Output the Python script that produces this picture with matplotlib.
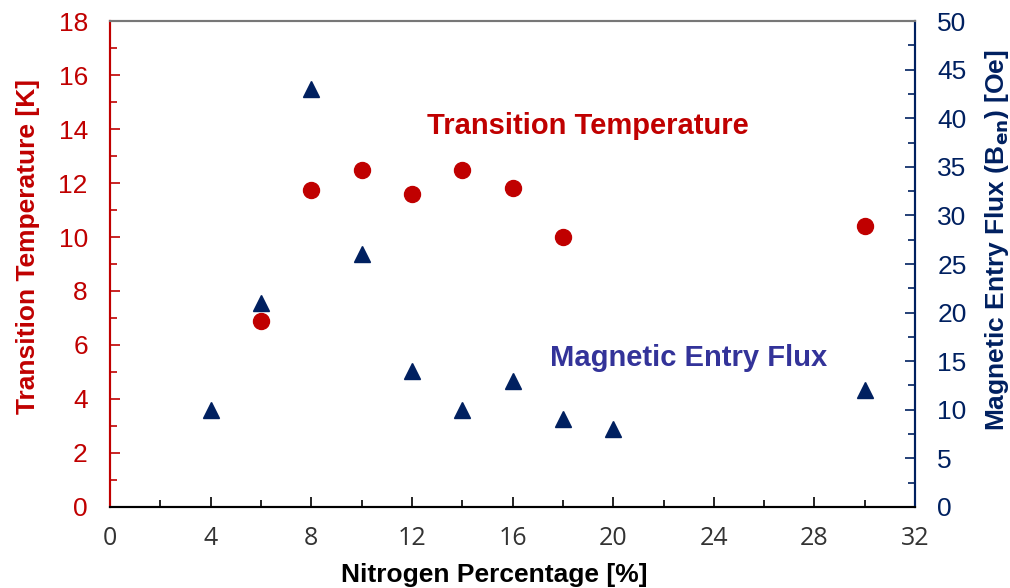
import numpy as np
import matplotlib.pyplot as plt
from matplotlib.ticker import MultipleLocator

plt.rcParams['font.family'] = ['Liberation Sans', 'DejaVu Sans']

# transition temperature (left axis)
tc_n = [6, 8, 10, 12, 14, 16, 18, 30]
tc_k = [6.9, 11.75, 12.5, 11.6, 12.5, 11.8, 10.0, 10.4]

# magnetic entry flux (right axis)
flux_n = [4, 6, 8, 10, 12, 14, 16, 18, 20, 30]
flux_oe = [10, 21, 43, 26, 14, 10, 13, 9, 8, 12]

red = '#C00000'
navy = '#002060'

fig = plt.figure(figsize=(10.1, 5.88), dpi=100)
ax = fig.add_axes([0.109, 0.138, 0.797, 0.826])
ax2 = ax.twinx()

ax.plot(tc_n, tc_k, 'o', color=red, markersize=11.5, zorder=3)
ax2.plot(flux_n, flux_oe, '^', color=navy, markersize=12, zorder=3)

ax.set_xlim(0, 32)
ax.set_ylim(0, 18)
ax2.set_ylim(0, 50)
ax.xaxis.set_major_locator(MultipleLocator(4))
ax.xaxis.set_minor_locator(MultipleLocator(2))
ax.yaxis.set_major_locator(MultipleLocator(2))
ax.yaxis.set_minor_locator(MultipleLocator(1))
ax2.yaxis.set_major_locator(MultipleLocator(5))
ax2.yaxis.set_minor_locator(MultipleLocator(2.5))

ax.tick_params(axis='x', which='both', direction='in', labelcolor='#333333', labelsize=18, pad=14)
ax.tick_params(axis='x', which='major', length=7, width=1.2, color='black')
ax.tick_params(axis='x', which='minor', length=5, width=1.2, color='black')
for lab in ax.get_xticklabels():
    lab.set_family(['Open Sans', 'DejaVu Sans'])
ax.tick_params(axis='y', which='both', direction='in', colors=red, labelsize=19, pad=16)
ax.tick_params(axis='y', which='major', length=7, width=1.2)
ax.tick_params(axis='y', which='minor', length=5, width=1.2)
ax2.tick_params(axis='y', which='both', direction='in', colors=navy, labelsize=19, pad=16)
ax2.tick_params(axis='y', which='major', length=7, width=1.2)
ax2.tick_params(axis='y', which='minor', length=5, width=1.2)

for a in (ax, ax2):
    a.spines['left'].set_color(red)
    a.spines['right'].set_color(navy)
    a.spines['bottom'].set_color('black')
    a.spines['top'].set_color('#777777')
    for s in a.spines.values():
        s.set_linewidth(1.5)

ax.set_xlabel('Nitrogen Percentage [%]', fontsize=19, fontweight='bold', color='black', va='center')
ax.set_ylabel('Transition Temperature [K]', fontsize=19, fontweight='bold', color=red, va='center')
ax2.set_ylabel('Magnetic Entry Flux (B$_\\mathbf{en}$) [Oe]', fontsize=19, fontweight='bold', color=navy, va='center')
ax.xaxis.set_label_coords(0.477, -0.14)
ax.yaxis.set_label_coords(-0.102, 0.537)
ax2.yaxis.set_label_coords(1.102, 0.549)

ax.text(19, 14.1, 'Transition Temperature', fontsize=21, fontweight='bold', color=red, ha='center', va='center')
ax.text(23, 5.5, 'Magnetic Entry Flux', fontsize=21, fontweight='bold', color='#333399', ha='center', va='center')

fig.savefig('out.png', dpi=100)
